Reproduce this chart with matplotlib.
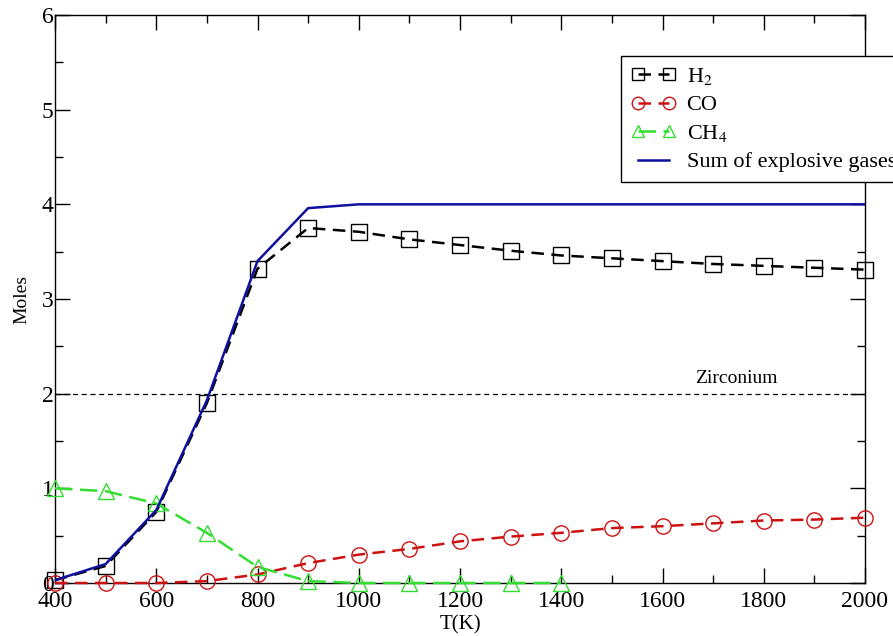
import matplotlib
matplotlib.use("Agg")
import matplotlib.pyplot as plt
from matplotlib.ticker import MultipleLocator

plt.rcParams['font.family'] = ['Liberation Serif', 'DejaVu Serif']
plt.rcParams['mathtext.fontset'] = 'stix'

# Datos
T = [400, 500, 600, 700, 800, 900, 1000, 1100, 1200, 1300, 1400,
     1500, 1600, 1700, 1800, 1900, 2000]
h2 = [0.03, 0.18, 0.75, 1.90, 3.32, 3.75, 3.71, 3.63, 3.57, 3.51, 3.46,
      3.43, 3.40, 3.37, 3.35, 3.33, 3.31]
co = [0.0, 0.0, 0.0, 0.02, 0.09, 0.21, 0.30, 0.36, 0.44, 0.49, 0.53,
      0.58, 0.60, 0.63, 0.66, 0.67, 0.69]
T_ch4 = [400, 500, 600, 700, 800, 900, 1000, 1100, 1200, 1300, 1400]
ch4 = [1.0, 0.97, 0.84, 0.53, 0.17, 0.02, 0.0, 0.0, 0.0, 0.0, 0.0]
suma = [0.03, 0.20, 0.77, 1.93, 3.40, 3.96, 4.0, 4.0, 4.0, 4.0, 4.0,
        4.0, 4.0, 4.0, 4.0, 4.0, 4.0]
zirconio = 2.0

fig = plt.figure(figsize=(8.93, 6.36), dpi=100)
ax = fig.add_axes([55/893, 1-583/636, 810/893, 568/636])

ax.plot(T, h2, color='black', ls=(0, (5, 3)), lw=1.8, marker='s', ms=11,
        mfc='none', mec='black', mew=1.0, label='H$_2$', zorder=3, clip_on=False)
ax.plot(T, co, color='#cc1111', ls=(0, (5, 3)), lw=1.8, marker='o', ms=11,
        mfc='none', mec='#cc1111', mew=1.0, label='CO', zorder=3, clip_on=False)
ax.plot(T_ch4, ch4, color='#33dd33', ls=(0, (7, 3)), lw=1.8, marker='^', ms=11,
        mfc='none', mec='#33dd33', mew=1.0, label='CH$_4$', zorder=3, clip_on=False)
ax.plot(T, suma, color='#1010a0', lw=1.8, label='Sum of explosive gases', zorder=4)

ax.axhline(zirconio, color='black', ls=(0, (4, 3)), lw=0.9, zorder=2)
ax.text(1665, 2.07, 'Zirconium', fontsize=14, va='bottom', ha='left')

ax.set_xlim(400, 2000)
ax.set_ylim(0, 6)
ax.xaxis.set_major_locator(MultipleLocator(200))
ax.xaxis.set_minor_locator(MultipleLocator(100))
ax.yaxis.set_major_locator(MultipleLocator(1))
ax.yaxis.set_minor_locator(MultipleLocator(0.5))
ax.tick_params(which='both', direction='in', top=True, right=True, labelsize=17)
ax.tick_params(axis='x', pad=6)
ax.tick_params(axis='y', pad=1)
ax.tick_params(which='major', length=11, width=1.0)
ax.tick_params(which='minor', length=6, width=1.0)
for s in ax.spines.values():
    s.set_linewidth(1.0)

ax.set_xlabel('T(K)', fontsize=15, va='top')
ax.xaxis.set_label_coords(0.5, -0.056)
ax.set_ylabel('Moles', fontsize=14, labelpad=8)

# leyenda que se sale por la derecha, como en el original
leg = ax.legend(loc='upper left', bbox_to_anchor=(621/893, 0, 330/893, 1-56/636),
                bbox_transform=fig.transFigure, mode='expand', numpoints=2,
                fontsize=16, frameon=True, fancybox=False, framealpha=1,
                edgecolor='black', handlelength=2.0, handletextpad=0.5,
                borderpad=0.45, labelspacing=0.35, borderaxespad=0)
leg.get_frame().set_linewidth(1.0)
leg.set_zorder(10)
for mh in leg.legend_handles:
    mh.set_markersize(9)

fig.savefig('out.png', dpi=100)
